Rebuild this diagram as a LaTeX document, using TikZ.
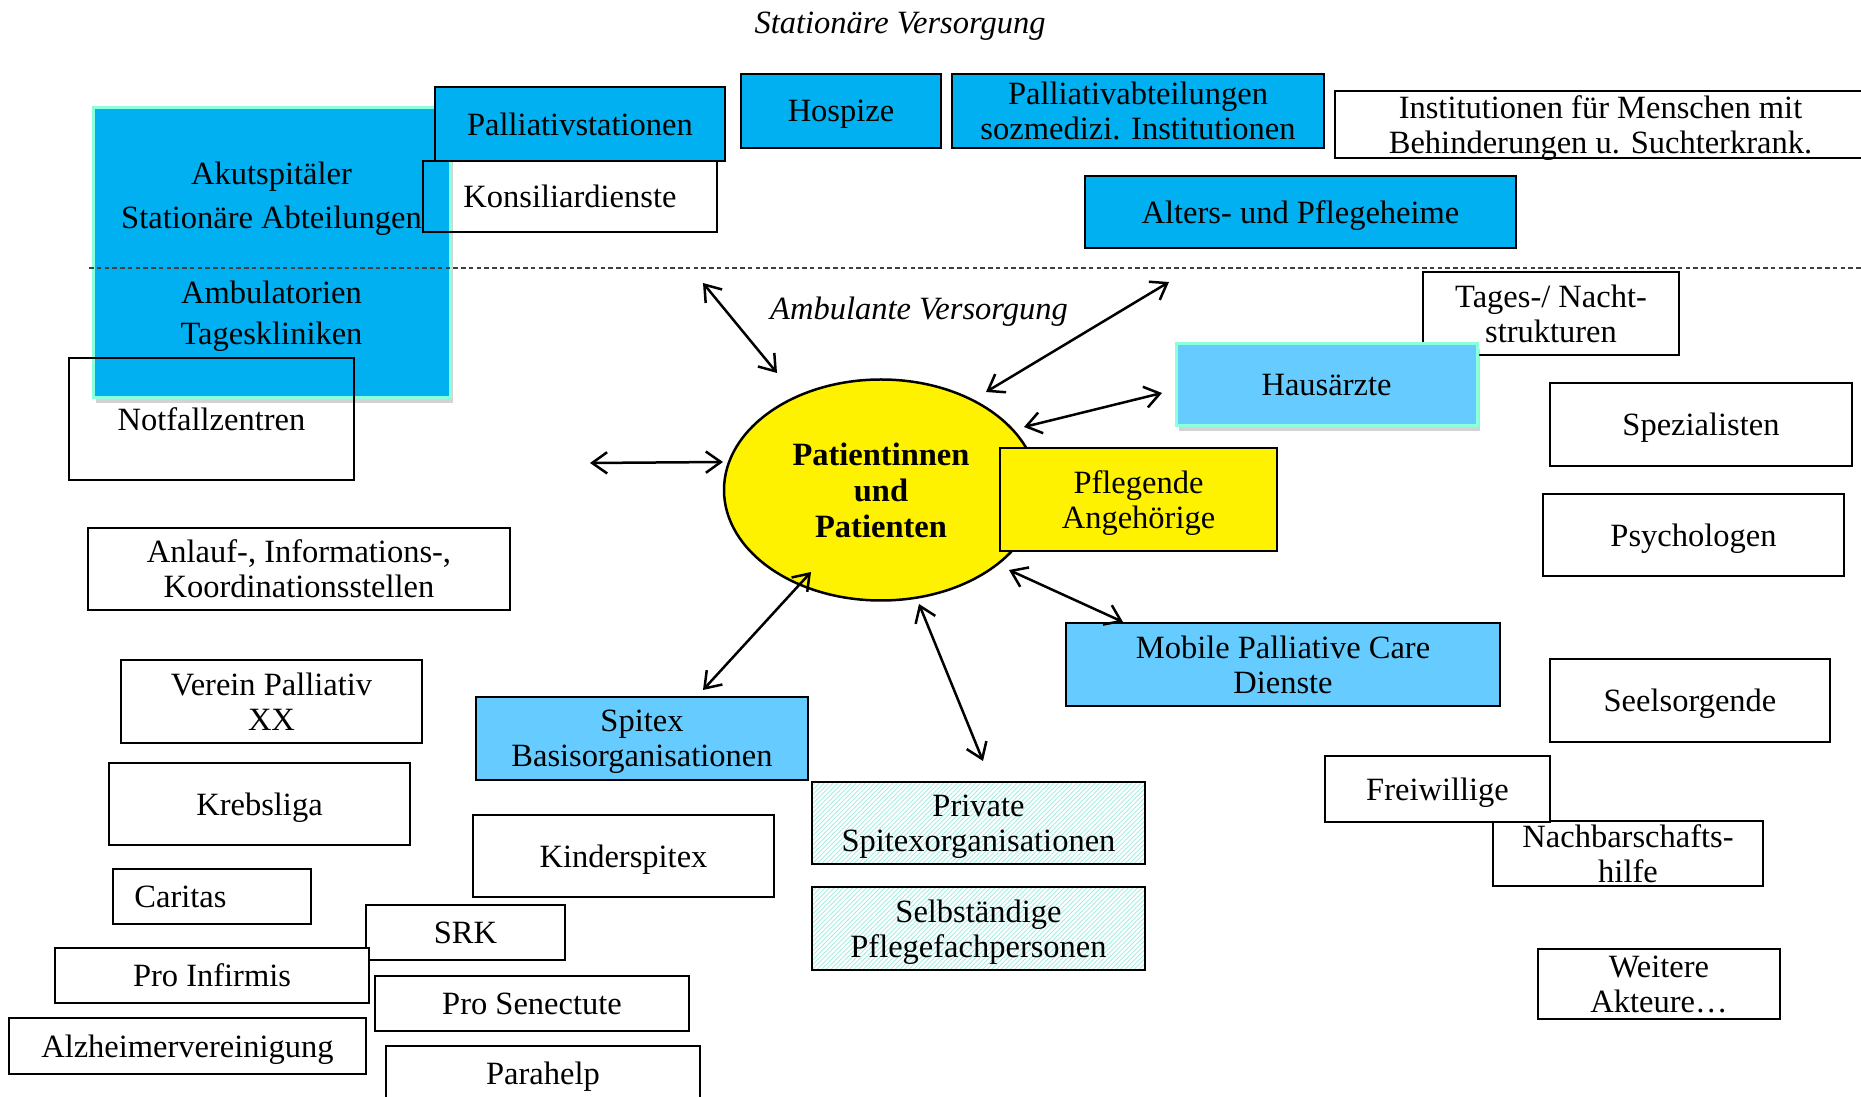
\documentclass[tikz,border=0pt]{standalone}
\usepackage{fontspec}
\setmainfont{Liberation Serif}
\usetikzlibrary{arrows.meta,shadows,shapes.geometric,patterns.meta}
\definecolor{darkblue}{HTML}{00B0F0}
\definecolor{lightblue}{HTML}{66CCFF}
\definecolor{aqualine}{HTML}{8CFFDC}
\definecolor{hatchline}{HTML}{A6ECE2}
\tikzset{
  wh/.style 2 args={minimum width=#1*0.4pt,minimum height=#2*0.4pt},
  wbox/.style={draw,line width=1pt,fill=white},
  obox/.style={draw,line width=1pt},
  dbox/.style={draw,line width=1pt,fill=darkblue},
  lbox/.style={draw,line width=1pt,fill=lightblue},
  gbox/.style={draw=aqualine,line width=1.2pt,drop shadow={shadow xshift=1.2pt,shadow yshift=-2pt,opacity=.35}},
  hatchbox/.style={draw,line width=1pt,pattern={Lines[angle=45,distance=1.3pt,line width=0.35pt]},pattern color=hatchline}
}
\begin{document}
\begin{tikzpicture}[x=0.4pt,y=-0.4pt,
    every node/.style={font=\fontsize{13}{14}\selectfont,align=center,inner sep=0pt,text depth=0pt},
    >={Straight Barb[length=6pt,width=8.5pt]}]
      \useasboundingbox (0,0) rectangle (1861,1097);
      \draw
        (271.5,253) node[gbox,fill=darkblue,wh={357}{290},font=\fontsize{13}{17.5}\selectfont] (akut)
          {Akutspitäler\\Stationäre Abteilungen\\[12.5pt]Ambulatorien\\[-1pt]Tageskliniken}
        (570,196.5) node[obox,wh={294}{71}] (konsil){Konsiliardienste}
        (211.5,419) node[obox,wh={285}{122}] (notfall){Notfallzentren}
        (580,124) node[dbox,wh={290}{74}] (palst){Palliativstationen}
        (841,111) node[dbox,wh={200}{74}] (hospiz){Hospize}
        (1138,111) node[dbox,wh={372}{74}] (palabt){Palliativabteilungen\\sozmedizi. Institutionen}
        (1600.5,124.5) node[wbox,wh={531}{67}] (instit){Institutionen für Menschen mit\\Behinderungen u. Suchterkrank.}
        (1300.5,212) node[dbox,wh={431}{72}] (alters){Alters- und Pflegeheime}
        (1551,313.5) node[wbox,wh={256}{83}] (tages){Tages-/ Nacht-\\strukturen}
        (1326.5,385) node[gbox,fill=lightblue,wh={301}{82}] (haus){Hausärzte}
        (881,490) node[ellipse,draw,line width=1pt,fill=yellow,wh={314}{221},font=\fontsize{13}{14.5}\selectfont\bfseries] (pat)
          {Patientinnen\\und\\Patienten}
        (1138.5,499.5) node[wbox,fill=yellow,wh={277}{103}] (pfleg){Pflegende\\Angehörige}
        (1283,664.5) node[lbox,wh={434}{83}] (mpc){Mobile Palliative Care\\Dienste}
        (1701,424.5) node[wbox,wh={302}{83}] (spez){Spezialisten}
        (1693.5,535) node[wbox,wh={301}{82}] (psych){Psychologen}
        (1690,700.5) node[wbox,wh={280}{83}] (seel){Seelsorgende}
        (1628,853.5) node[wbox,wh={270}{65}] (nachb){Nachbarschafts-\\hilfe}
        (1437.5,789) node[wbox,wh={225}{66}] (frei){Freiwillige}
        (1659,984) node[wbox,wh={242}{70}] (weit){Weitere\\Akteure\ldots}
        (299,569) node[wbox,wh={422}{82}] (anlauf){Anlauf-, Informations-,\\Koordinationsstellen}
        (271.5,701.5) node[wbox,wh={301}{83}] (verein){Verein Palliativ\\XX}
        (642,738.5) node[lbox,wh={332}{83}] (spitex){Spitex\\Basisorganisationen}
        (259.5,804) node[wbox,wh={301}{82}] (krebs){Krebsliga}
        (623.5,856) node[wbox,wh={301}{82}] (kinder){Kinderspitex}
        (978.5,823) node[hatchbox,wh={333}{82}] (priv){Private\\Spitexorganisationen}
        (978.5,928.5) node[hatchbox,wh={333}{83}] (selbst){Selbständige\\Pflegefachpersonen}
        (212,896.5) node[wbox,wh={198}{55},text width=62pt,align=left] (caritas){Caritas}
        (465.5,932.5) node[wbox,wh={199}{55}] (srk){SRK}
        (212,975.5) node[wbox,wh={314}{55}] (infirm){Pro Infirmis}
        (532,1003.5) node[wbox,wh={314}{55}] (senect){Pro Senectute}
        (187.5,1046) node[wbox,wh={357}{56}] (alzh){Alzheimervereinigung}
        (543,1073.5) node[wbox,wh={314}{55}] (parah){Parahelp}
        (900,23) node[font=\fontsize{13}{14}\selectfont\itshape] (stat){Stationäre Versorgung}
        (919,308) node[font=\fontsize{13}{14}\selectfont\itshape] (amb){Ambulante Versorgung};
      \draw
        (89,268) coordinate (sepl) (1861,268) coordinate (sepr)
        (590,463) coordinate (nf1) (723,462) coordinate (nf2)
        (703,283) coordinate (nw1) (777,373) coordinate (nw2)
        (1169,282) coordinate (ne1) (986,392) coordinate (ne2)
        (1162,393) coordinate (ha1) (1024,427) coordinate (ha2)
        (1009,570) coordinate (mp1) (1123,622) coordinate (mp2)
        (811,572) coordinate (sp1) (703,690) coordinate (sp2)
        (919,604) coordinate (pr1) (983,761) coordinate (pr2);
      \draw[line width=0.6pt,black!75,dash pattern=on 1.8pt off 1.3pt] (sepl) -- (sepr);
      \begin{scope}[<->,line width=1pt]
        \draw (nf1) to (nf2);
        \draw (nw1) to (nw2);
        \draw (ne1) to (ne2);
        \draw (ha1) to (ha2);
        \draw (mp1) to (mp2);
        \draw (sp1) to (sp2);
        \draw (pr1) to (pr2);
      \end{scope}
    \end{tikzpicture}
\end{document}
